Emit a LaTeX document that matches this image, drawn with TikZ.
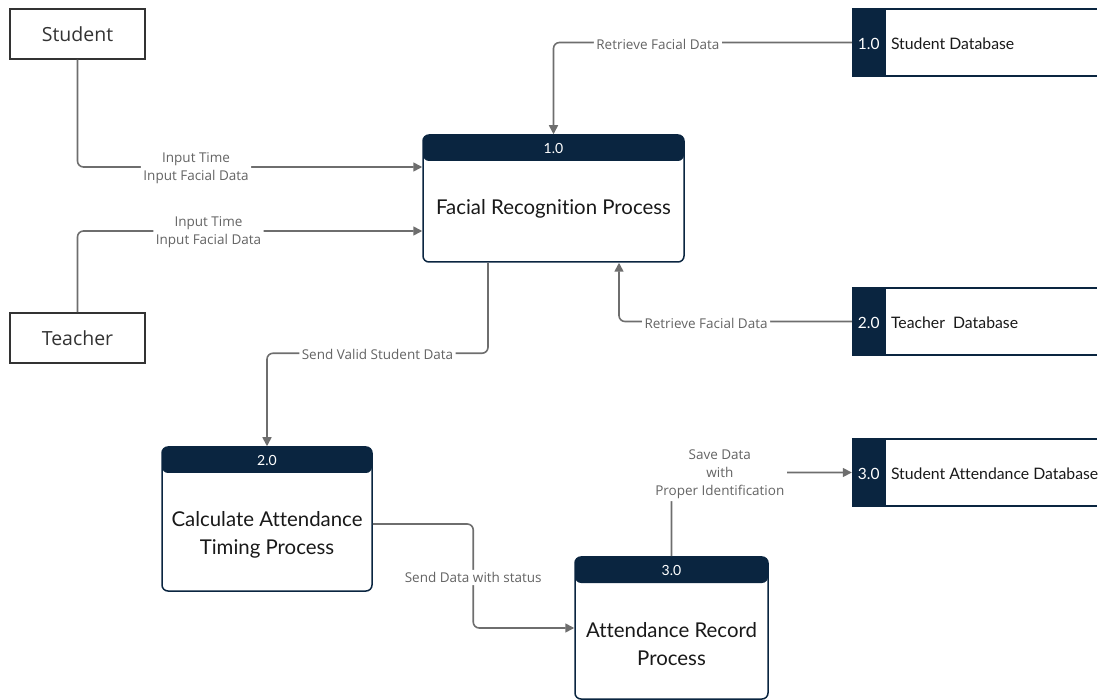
\documentclass[tikz,border=0pt]{standalone}
\usepackage{fontspec}
\setmainfont{Open Sans}
\newfontfamily\lato[Ligatures=NoCommon]{Lato}
\usetikzlibrary{calc,arrows.meta}
\definecolor{Navy}{RGB}{10,37,64}
\definecolor{FlowGray}{RGB}{110,110,110}
\definecolor{LabelGray}{RGB}{100,100,100}
\definecolor{EdgeGray}{RGB}{51,51,51}

\begin{document}
\begin{tikzpicture}[x=1pt, y=-1pt,
	entity/.style={draw=EdgeGray, line width=1.5pt, minimum width=135pt, minimum height=50pt, inner sep=0pt, text=EdgeGray, font=\fontsize{19.5}{22}\selectfont},
	process/.style={draw=Navy, line width=1.5pt, rounded corners=6pt, fill=white, inner sep=0pt,
		path picture={\fill[Navy] (path picture bounding box.north west) rectangle ([yshift=-26pt]path picture bounding box.north east);}},
	proctxt/.style={align=center, text=black!90, inner sep=0pt, font=\lato\fontsize{20.4}{28}\selectfont},
	procnum/.style={text=white, inner sep=0pt, font=\lato\fontsize{14}{16}\selectfont},
	store/.style={minimum width=245pt, minimum height=67pt, inner sep=0pt},
	storeline/.style={draw=Navy, line width=2pt},
	storenum/.style={text=white, inner sep=0pt, font=\lato\fontsize{15.5}{18}\selectfont},
	storetxt/.style={anchor=west, text=black!90, inner sep=0pt, font=\lato\fontsize{15.8}{18}\selectfont},
	flow/.style={draw=FlowGray, line width=1.6pt, rounded corners=6pt, -{Triangle[length=9pt, width=9pt]}},
	lbl/.style={fill=white, text=LabelGray, align=center, inner sep=2.5pt, yshift=-1.5pt, font=\fontsize{13.5}{18}\selectfont}]
	\useasboundingbox (0,0) rectangle (1104,700);

	% external entities
	\node[entity] (st) at (77.5,34) {Student};
	\node[entity] (te) at (77.5,338) {Teacher};

	% processes
	\node[process, minimum width=261pt, minimum height=127pt] (p1) at (553.5,198.5) {};
	\node[process, minimum width=210pt, minimum height=144pt] (p2) at (267,519) {};
	\node[process, minimum width=193pt, minimum height=142pt] (p3) at (671.5,628) {};
	\foreach \p/\num in {p1/1.0, p2/2.0, p3/3.0}
		\node[procnum] (\p num) at ([yshift=-14pt]\p.north) {\num};
	\node[proctxt] (p1txt) at ([yshift=-10.5pt]p1.center) {Facial Recognition Process};
	\node[proctxt] (p2txt) at ([yshift=-16pt]p2.center) {Calculate Attendance\\Timing Process};
	\node[proctxt] (p3txt) at ([yshift=-16.5pt]p3.center) {Attendance Record\\Process};

	% data stores
	\foreach \id/\num/\txt/\yy in {db1/1.0/Student Database/42.5, db2/2.0/Teacher\ \ Database/321.5, db3/3.0/Student Attendance Database/472.5} {
		\node[store] (\id) at (974.5,\yy) {};
		\fill[Navy] (\id.north west) rectangle ([xshift=34pt]\id.south west);
		\draw[storeline] (\id.north west) -- (\id.north east) (\id.south west) -- (\id.south east);
		\node[storenum] (\id num) at ([xshift=17pt, yshift=-1pt]\id.west) {\num};
		\node[storetxt] (\id txt) at ([xshift=39pt, yshift=-1pt]\id.west) {\txt};
	}

	% data flows
	\draw[flow] (st.south) |- node[lbl, pos=0.672]{Input Time\\Input Facial Data} ([yshift=31.5pt]p1.west);
	\draw[flow] (te.north) |- node[lbl, pos=0.69]{Input Time\\Input Facial Data} ([yshift=-32.5pt]p1.west);
	\draw[flow] (db1.west) -| node[lbl, pos=0.325]{Retrieve Facial Data} (p1.north);
	\draw[flow] (db2.west) -| node[lbl, pos=0.313]{Retrieve Facial Data} ([xshift=65.5pt]p1.south);
	\draw[flow] ([xshift=-65.5pt]p1.south) |- node[lbl, pos=0.75]{Send Valid Student Data} ([yshift=93pt]p2.north) -- (p2.north);
	\draw[flow] ([yshift=-5pt]p2.east) -| node[lbl, pos=0.75]{Send Data with status} ([xshift=-101pt]p3.west) -- (p3.west);
	\draw[flow] (p3.north) |- node[lbl, pos=0.634]{Save Data\\with\\Proper Identification} (db3.west);
\end{tikzpicture}
\end{document}
